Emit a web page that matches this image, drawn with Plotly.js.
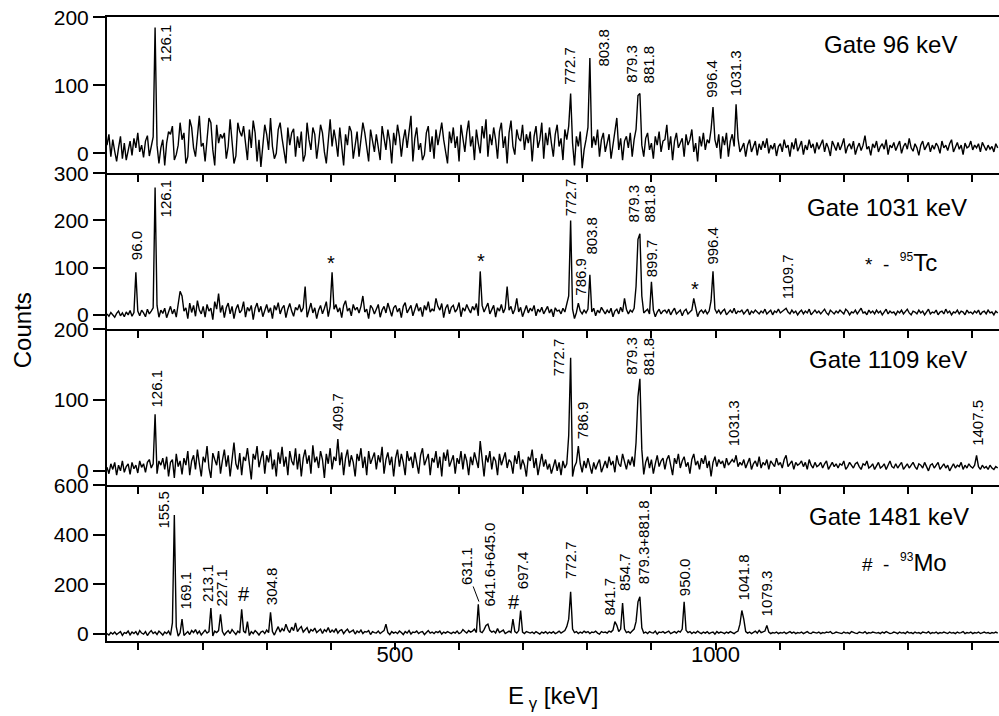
<!DOCTYPE html>
<html><head><meta charset="utf-8">
<script src="https://cdn.plot.ly/plotly-3.0.1.min.js"></script>
<style>html,body{margin:0;padding:0;background:#fff}#chart{width:999px;height:716px}</style>
</head><body><div id="chart"></div>
<script>
// channel calibration of the spectra (keV)
const energyStartKeV = 51;
const channelWidthKeV = 3;

const gate96 = [
12,28,-5,20,3,-12,8,25,-8,15,
-10,5,18,-3,22,8,30,2,12,-6,
18,26,-4,10,24,185,12,-15,8,20,
-18,15,32,28,40,-10,-2,12,45,20,
30,-15,-5,50,38,8,-5,25,55,10,
15,-12,20,52,45,5,-18,42,15,28,
22,30,-8,10,50,18,-15,-4,45,32,
25,40,12,-10,35,8,48,30,-12,20,
-20,15,42,28,5,52,10,-8,0,35,
45,22,2,-15,38,12,30,36,-5,25,
8,32,-12,-2,45,20,5,38,28,-8,
15,42,30,2,-15,22,50,10,35,18,
-5,38,5,-18,28,12,40,32,-8,15,
32,-5,18,45,30,8,-12,35,15,2,
28,10,-10,40,22,5,35,18,-15,30,
12,42,25,-5,20,35,8,28,55,-12,
22,38,5,15,-10,-2,30,40,2,25,
-8,35,12,28,45,20,5,-15,32,15,
38,8,25,-12,42,18,2,30,48,10,
25,-10,35,15,0,40,22,50,-5,28,
12,38,20,-8,32,45,8,25,-15,30,
48,10,-2,35,22,18,42,5,28,15,
32,-12,25,40,8,20,45,-8,30,12,
38,15,-5,28,42,10,22,-10,35,20,
40,88,15,-18,25,10,32,-22,5,20,
38,140,8,25,12,35,-5,20,30,2,
18,28,-8,15,35,52,5,22,-10,18,
25,8,30,-5,20,35,85,88,12,-5,
22,30,5,15,-8,25,12,32,2,18,
20,42,5,25,-10,18,30,8,15,22,
-5,28,12,20,35,2,15,-12,25,10,
30,5,20,15,35,68,20,8,28,-8,
25,12,30,-5,18,28,10,72,22,2,
8,15,-5,12,20,2,10,18,-3,14,
5,18,8,22,0,12,6,15,-4,10,
14,2,20,8,12,-5,16,6,22,3,
10,18,-2,12,5,20,8,14,0,16,
6,12,20,2,15,8,-4,18,10,4,
16,5,12,22,0,10,14,6,18,-2,
8,15,4,12,26,6,10,-3,14,8,
18,2,10,14,6,20,-2,12,8,16,
4,12,18,0,10,15,6,22,8,3,
14,8,-3,12,18,5,10,16,2,12,
6,15,10,0,18,8,12,4,14,20,
2,10,16,6,12,-2,15,8,10,18,
5,12,8,14,2,16,10,4,12,6,
10,2,14,8];

const gate1031 = [
2,-3,5,0,-5,3,8,-2,4,-4,
6,0,9,-3,5,90,8,-2,10,4,
-4,12,2,8,15,270,20,-5,10,3,
14,-6,8,18,2,12,-5,20,50,40,
8,15,-8,25,5,20,-3,30,10,2,
18,-5,22,8,14,-10,28,12,45,5,
20,-6,15,25,2,18,-8,12,22,4,
10,28,-5,16,8,20,-10,14,25,6,
18,-4,12,22,5,15,-8,20,10,26,
2,14,20,-6,12,24,8,-3,16,10,
22,6,15,60,-5,12,25,4,15,-8,
10,20,2,14,28,-4,18,90,12,22,
6,15,-6,20,30,8,14,-2,22,10,
16,4,18,40,6,12,-8,20,14,2,
12,22,-5,10,18,4,25,8,-3,15,
20,6,14,-6,18,26,4,12,20,-2,
14,24,8,16,-4,20,10,28,6,12,
8,35,18,10,24,-6,14,22,2,16,
20,6,12,26,-4,15,8,22,12,4,
18,10,24,-2,92,20,6,14,25,2,
12,20,-5,15,8,22,4,14,60,10,
18,2,12,35,6,16,-4,10,20,4,
14,8,20,-2,12,6,16,2,10,18,
4,12,-4,15,8,10,2,14,6,22,
40,200,12,-8,5,25,8,2,10,4,
12,85,6,14,-2,10,4,16,8,2,
10,4,14,-4,8,12,2,16,6,35,
12,2,10,6,14,60,160,172,40,4,
8,12,2,70,10,-4,6,12,2,8,
10,4,12,0,8,14,2,6,10,-2,
8,12,2,6,10,35,12,-4,6,10,
4,10,2,8,30,92,12,4,10,2,
8,12,0,6,10,4,14,2,8,6,
10,2,6,12,0,8,4,10,6,2,
8,4,12,2,6,10,0,8,5,12,
4,8,12,14,6,2,10,4,8,0,
6,10,2,8,4,12,0,6,10,4,
8,2,6,12,4,0,10,6,2,8,
4,10,6,2,12,8,0,6,4,10,
2,8,14,4,6,0,10,4,8,2,
10,4,8,0,6,12,2,8,4,6,
0,8,4,10,2,6,12,4,0,8,
6,2,10,4,8,0,6,12,2,6,
4,10,0,6,8,2,12,4,8,0,
6,4,10,2,8,6,0,10,4,6,
2,8,4,10,0,6,8,2,10,4,
6,0,8,4];

const gate1109 = [
5,-4,10,2,12,-6,8,0,14,-2,
6,10,-5,12,3,8,-3,14,5,10,
-2,12,16,4,10,80,-4,14,8,18,
2,20,-8,12,16,-10,24,6,14,-5,
18,8,28,-6,14,22,2,30,10,-8,
20,12,35,4,-10,25,16,8,28,-4,
15,30,6,22,-8,18,40,10,2,25,
-6,20,14,32,8,-12,24,16,35,5,
18,28,-4,22,12,30,2,16,-8,26,
10,34,6,20,-6,28,14,8,32,2,
24,-8,18,30,10,22,-4,36,12,20,
4,28,16,-10,24,10,32,2,20,14,
45,8,26,-6,18,30,6,22,12,-8,
24,14,32,4,20,-6,28,10,18,26,
2,22,12,34,-4,16,26,8,20,-8,
18,30,6,24,12,-6,28,14,20,4,
26,10,-4,22,32,8,16,24,-6,18,
12,28,4,20,-8,26,14,30,6,16,
22,-4,18,10,28,2,24,14,-6,20,
8,26,16,4,42,18,-8,22,12,28,
2,20,14,-6,24,8,18,26,4,16,
12,-4,22,10,28,2,16,8,-8,20,
14,30,4,18,-6,12,24,6,16,2,
10,-4,8,16,0,12,-6,14,4,10,
50,160,-8,6,12,35,10,-2,14,4,
18,6,-4,12,2,10,16,-2,8,14,
4,20,8,14,-2,22,10,6,24,12,
2,16,8,20,6,40,105,130,30,-5,
12,20,4,16,-4,10,22,6,14,18,
2,16,22,8,-6,18,10,24,4,14,
20,6,12,-4,16,24,8,14,2,18,
10,22,4,14,-8,12,20,6,16,10,
14,4,18,8,12,16,12,22,6,12,
8,16,4,12,18,2,10,14,6,20,
4,12,8,16,2,14,10,6,18,8,
12,4,16,22,6,10,14,2,12,8,
10,14,6,12,2,16,8,4,12,6,
8,12,4,10,14,2,8,12,6,10,
4,10,8,14,2,6,12,8,4,10,
12,6,2,10,8,14,4,6,10,2,
8,12,4,6,10,2,8,14,6,4,
10,4,8,12,2,6,10,4,8,12,
6,2,10,8,4,12,6,0,8,10,
4,8,12,2,6,10,4,8,0,6,
10,4,8,6,12,2,8,4,10,6,
4,8,22,6,2,8,4,6,2,8,
4,2,6,4];

const gate1481 = [
2,-4,6,0,8,-2,4,10,-5,6,
3,12,-3,8,2,10,-4,14,4,0,
10,-6,6,14,2,8,-2,12,4,-4,
8,2,12,-5,45,480,30,-8,5,60,
-6,4,10,-2,14,6,18,2,12,-4,
8,16,4,10,105,-8,12,6,14,80,
10,-4,6,14,2,18,8,-2,12,4,
100,12,4,50,-6,10,2,14,6,-4,
8,12,2,16,6,88,10,-4,14,30,
8,22,12,40,18,6,28,14,45,10,
22,30,8,16,26,4,18,12,24,6,
14,20,2,18,10,26,6,16,8,22,
4,14,18,2,12,20,6,10,16,0,
12,6,16,2,10,8,14,-2,10,6,
4,12,2,8,14,40,6,-2,10,4,
8,2,12,6,-2,10,4,14,0,8,
6,12,2,8,10,-2,6,14,4,8,
2,10,6,12,0,8,4,10,6,2,
8,4,12,2,6,18,10,4,14,8,
12,20,6,120,10,6,18,35,40,15,
8,12,4,22,6,10,16,2,8,12,
6,60,10,4,14,95,8,2,10,6,
4,8,2,10,6,0,8,4,10,2,
8,4,10,2,6,12,4,8,14,30,
60,170,20,6,10,2,8,4,12,6,
10,2,8,6,12,4,0,10,6,8,
4,12,8,16,50,35,10,20,125,20,
6,10,4,12,20,50,130,150,25,4,
8,2,10,6,4,12,0,8,6,10,
4,8,12,2,6,10,4,12,8,20,
130,15,6,10,2,8,4,12,6,2,
8,4,10,2,6,8,0,10,4,8,
6,2,8,4,10,6,2,8,12,40,
95,60,10,4,8,2,6,12,4,15,
6,10,12,35,8,2,6,4,8,2,
6,4,8,2,6,10,4,8,2,6,
4,8,2,6,10,4,2,8,6,4,
8,2,6,4,8,6,10,2,4,8,
6,4,2,8,4,6,2,10,6,4,
2,8,6,4,10,2,6,4,8,6,
4,6,2,8,4,10,6,2,4,8,
6,2,8,4,6,2,10,4,6,2,
8,4,6,2,8,6,4,10,2,6,
4,8,2,6,4,8,6,2,8,4,
6,2,8,4,6,10,2,6,4,8,
2,6,4,8,2,6,8,4,6,2,
6,4,8,4];

const gateTitles = ['Gate 96 keV', 'Gate 1031 keV', 'Gate 1109 keV', 'Gate 1481 keV'];

// peak labels: [text, keV, counts]
const peakLabels96 = [['126.1',142.5,161.5],['772.7',772.8,128.7],['803.8',823.8,154.9],['879.3',869.0,131],['881.8',894.9,131],['996.4',993.8,109],['1031.3',1030.1,117.6]];
const peakLabels1031 = [['96.0',97.3,147],['126.1',142.5,246],['772.7',772.8,249],['786.9',789.5,80],['803.8',805.1,167],['879.3',872.6,235.5],['881.8',897.6,235.5],['899.7',900.2,119],['996.4',995.3,145.7],['1109.7',1111.6,80]];
const peakLabels1109 = [['126.1',128.5,116],['409.7',410,84],['772.7',756.2,161],['786.9',792.6,71],['879.3',869,162],['881.8',894.9,162],['1031.3',1028.5,67],['1407.5',1409.4,68]];
const peakLabels1481 = [['155.5',138.8,503],['169.1',172.6,176],['213.1',208,205],['227.1',229.8,186],['304.8',306.7,193],['631.1',611.8,273],['641.6+645.0',648.1,280],['697.4',699.1,256],['772.7',773.9,297],['841.7',834.1,152],['854.7',857,250],['879.3+881.8',887.1,371],['950.0',950.6,229],['1041.8',1043,229],['1079.3',1079.5,162]];
const markers1031 = [['*',400.2,109],['*',633.6,115],['*',967.7,55]];
const markers1481 = [['#',265,163],['#',685.5,130]];

const FONT = 'Liberation Sans, Arial, sans-serif';
const ids = ['', '2', '3', '4'];
const spectra = [gate96, gate1031, gate1109, gate1481];
const peakSets = [peakLabels96, peakLabels1031, peakLabels1109, peakLabels1481];
const markerSets = [[], markers1031, [], markers1481];
const yRanges = [[-29,200.5],[-30,300.5],[-20,200.5],[-28,601]];
const yDticks = [100,100,100,200];
const domains = [[0.75,1],[0.5,0.75],[0.25,0.5],[0,0.25]];
const gatePos = [[1165.3,160.4],[1139.2,228],[1141.9,158],[1141.9,475]];

const traces = [];
const layout = {
  width: 999, height: 716,
  margin: {l:107, r:0, t:17, b:75},
  paper_bgcolor:'#fff', plot_bgcolor:'#fff',
  showlegend:false,
  font:{family:FONT, color:'#000'},
  annotations: [], shapes: []
};

for (let p = 0; p < 4; p++) {
  const id = ids[p];
  traces.push({type:'scatter', mode:'lines', x0:energyStartKeV, dx:channelWidthKeV, y:spectra[p],
    xaxis:'x'+id, yaxis:'y'+id, line:{color:'#000', width:1.4}, hoverinfo:'skip'});
  layout['xaxis'+id] = {domain:[0,1], anchor:'y'+id, range:[51,1442], showline:true, linewidth:2, linecolor:'#000',
    ticks:'outside', ticklen:7, tickwidth:2, tickcolor:'#000', tick0:0, dtick:500,
    minor:{dtick:100, tick0:0, ticks:'outside', ticklen:7, tickwidth:2, tickcolor:'#000'},
    showgrid:false, zeroline:false, showticklabels:p===3, mirror:p===0, ticklabelstandoff:-14,
    tickfont:{size:22, family:FONT, color:'#000'}};
  layout['yaxis'+id] = {domain:domains[p], anchor:'x'+id, range:yRanges[p], tick0:0, dtick:yDticks[p],
    showline:true, linewidth:2, linecolor:'#000', ticks:'outside', ticklen:12, tickwidth:2, tickcolor:'#000',
    showgrid:false, zeroline:false, ticklabelstandoff:0, tickfont:{size:21, family:FONT, color:'#000'}};
  peakSets[p].forEach(function(l){
    layout.annotations.push({text:l[0], x:l[1], y:l[2], xref:'x'+id, yref:'y'+id, textangle:-90,
      xanchor:'center', yanchor:'middle', showarrow:false, font:{size:15, family:FONT, color:'#000'}});
  });
  markerSets[p].forEach(function(m){
    layout.annotations.push({text:m[0], x:m[1], y:m[2], xref:'x'+id, yref:'y'+id,
      xanchor:'center', yanchor:'middle', showarrow:false, font:{size:20, family:FONT, color:'#000'}});
  });
  layout.annotations.push({text:gateTitles[p], x:gatePos[p][0], y:gatePos[p][1], xref:'x'+id, yref:'y'+id,
    xanchor:'left', yanchor:'middle', showarrow:false, font:{size:24, family:FONT, color:'#000'}});
}

layout.annotations.push({text:"<span style='font-size:19px'>*  -  </span><sup><span style='font-size:12px'>95</span></sup>Tc",
  x:1230, y:111, xref:'x2', yref:'y2', xanchor:'left', yanchor:'middle', showarrow:false,
  font:{size:24, family:FONT, color:'#000'}});
layout.annotations.push({text:"<span style='font-size:19px'>#  -  </span><sup><span style='font-size:12px'>93</span></sup>Mo",
  x:1225, y:288, xref:'x4', yref:'y4', xanchor:'left', yanchor:'middle', showarrow:false,
  font:{size:24, family:FONT, color:'#000'}});
layout.annotations.push({text:'Counts', x:-0.0953, y:0.498, xref:'paper', yref:'paper', textangle:-90,
  xanchor:'center', yanchor:'middle', showarrow:false, font:{size:24, family:FONT, color:'#000'}});
layout.annotations.push({text:'E<sub> γ</sub> [keV]', x:0.5, y:-0.09, xref:'paper', yref:'paper',
  xanchor:'center', yanchor:'middle', showarrow:false, font:{size:24, family:FONT, color:'#000'}});
layout.shapes.push({type:'line', xref:'x4', yref:'y4', x0:622, y0:192, x1:631, y1:131, line:{color:'#000', width:1}});

Plotly.newPlot('chart', traces, layout, {displayModeBar:false, staticPlot:true});
</script></body></html>
